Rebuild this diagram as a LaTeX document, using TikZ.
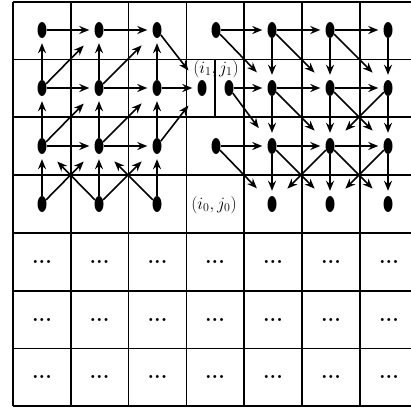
\documentclass[tikz,border=0pt]{standalone}
\usepackage{tikz}
\usetikzlibrary{arrows.meta, shapes.geometric}

\begin{document}
\begin{tikzpicture}[x=1pt, y=-1pt,
  grid/.style={line width=1.2pt, black},
  dot/.style={ellipse, fill=black, minimum width=9pt, minimum height=16pt, inner sep=0pt},
  lbl/.style={font=\fontsize{18}{20}\selectfont, inner sep=0pt},
  more/.style={font=\fontsize{21}{22}\selectfont\bfseries, inner sep=1pt},
  arr/.style={-{Stealth[length=10pt, width=8pt]}, line width=1.6pt, shorten >=5pt},
  darr/.style={arr, shorten >=16pt}
]
  \useasboundingbox (0,0) rectangle (411,410);

  % cells
  \foreach \x in {13,71,128.5,186.5,244,302,360}
    \draw[grid] (\x,2) -- (\x,406);
  \foreach \y in {2,59.5,117,175,233,291,348.5,406}
    \draw[grid] (13,\y) -- (411,\y);
  \draw[grid] (215,59.5) -- (215,117);

  % lower rows, not worked out
  \foreach \x in {42,99.5,157.5,215,273,331,389}
    \foreach \y in {262,320,377}
      \node[more] at (\x,\y) {...};

  % left block
  \node[dot] (a0) at (42,30) {};
  \node[dot] (b0) at (99,30) {};
  \node[dot] (c0) at (157,30) {};
  \node[dot] (a1) at (42,88) {};
  \node[dot] (b1) at (99,88) {};
  \node[dot] (c1) at (157,88) {};
  \node[dot] (a2) at (42,146) {};
  \node[dot] (b2) at (99,146) {};
  \node[dot] (c2) at (157,146) {};
  \node[dot] (a3) at (42,204) {};
  \node[dot] (b3) at (99,204) {};
  \node[dot] (c3) at (157,204) {};

  % split cell
  \node[dot] (i1) at (202,88) {};
  \node[dot] (j1) at (229,88) {};
  \node[lbl] (l1) at (216,69) {$(i_1,j_1)$};
  \node[lbl] (l0) at (214,205) {$(i_0,j_0)$};

  % right block
  \node[dot] (d0) at (216,30) {};
  \node[dot] (e0) at (272,30) {};
  \node[dot] (f0) at (330,30) {};
  \node[dot] (g0) at (388,30) {};
  \node[dot] (e1) at (272,88) {};
  \node[dot] (f1) at (330,88) {};
  \node[dot] (g1) at (388,88) {};
  \node[dot] (d2) at (216,146) {};
  \node[dot] (e2) at (272,146) {};
  \node[dot] (f2) at (330,146) {};
  \node[dot] (g2) at (388,146) {};
  \node[dot] (e3) at (272,204) {};
  \node[dot] (f3) at (330,204) {};
  \node[dot] (g3) at (388,204) {};

  % left block, towards (i1,j1)
  \draw[arr] (a0) -- (b0);
  \draw[arr] (b0) -- (c0);
  \draw[darr] (c0) -- (i1);
  \draw[arr] (a1) -- (b1);
  \draw[arr] (b1) -- (c1);
  \draw[arr] (c1) -- (i1);
  \draw[arr] (a1) -- (a0);
  \draw[arr] (b1) -- (b0);
  \draw[arr] (c1) -- (c0);
  \draw[darr] (a1) -- (b0);
  \draw[darr] (b1) -- (c0);
  \draw[arr] (a2) -- (b2);
  \draw[arr] (b2) -- (c2);
  \draw[arr] (a2) -- (a1);
  \draw[arr] (b2) -- (b1);
  \draw[arr] (c2) -- (c1);
  \draw[darr] (a2) -- (b1);
  \draw[darr] (b2) -- (c1);
  \draw[darr] (c2) -- (i1);
  \draw[arr] (a3) -- (a2);
  \draw[arr] (b3) -- (b2);
  \draw[arr] (c3) -- (c2);
  \draw[darr] (a3) -- (b2);
  \draw[darr] (b3) -- (c2);
  \draw[darr] (b3) -- (a2);
  \draw[darr] (c3) -- (b2);

  % right block, towards (i0,j0)
  \draw[arr] (d0) -- (e0);
  \draw[arr] (e0) -- (f0);
  \draw[arr] (f0) -- (g0);
  \draw[darr] (d0) -- (e1);
  \draw[arr] (e0) -- (e1);
  \draw[arr] (f0) -- (f1);
  \draw[arr] (g0) -- (g1);
  \draw[darr] (e0) -- (f1);
  \draw[darr] (f0) -- (g1);
  \draw[arr] (j1) -- (e1);
  \draw[arr] (e1) -- (f1);
  \draw[arr] (f1) -- (g1);
  \draw[darr] (j1) -- (e2);
  \draw[arr] (e1) -- (e2);
  \draw[arr] (f1) -- (f2);
  \draw[arr] (g1) -- (g2);
  \draw[darr] (e1) -- (f2);
  \draw[darr] (f1) -- (g2);
  \draw[darr] (g1) -- (f2);
  \draw[arr] (d2) -- (e2);
  \draw[arr] (e2) -- (f2);
  \draw[arr] (f2) -- (g2);
  \draw[darr] (d2) -- (e3);
  \draw[arr] (e2) -- (e3);
  \draw[arr] (f2) -- (f3);
  \draw[arr] (g2) -- (g3);
  \draw[darr] (e2) -- (f3);
  \draw[darr] (f2) -- (g3);
  \draw[darr] (f2) -- (e3);
  \draw[darr] (g2) -- (f3);
\end{tikzpicture}
\end{document}
